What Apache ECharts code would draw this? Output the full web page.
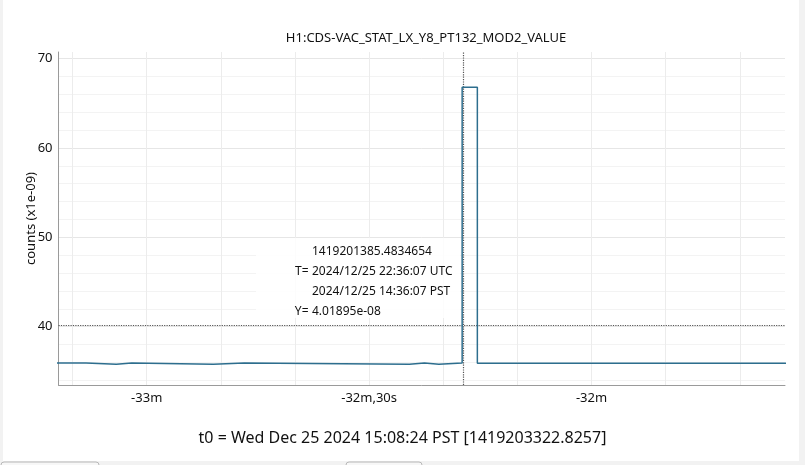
<!DOCTYPE html>
<html>
<head>
<meta charset="utf-8">
<script src="https://cdn.jsdelivr.net/npm/echarts@6/dist/echarts.min.js"></script>
<style>html,body{margin:0;padding:0;background:#fff}#c{width:805px;height:465px}</style>
</head>
<body>
<div id="c"></div>
<script>
// ---- data (seconds relative to t0, value in units of 1e-09) ----
const channelName = 'H1:CDS-VAC_STAT_LX_Y8_PT132_MOD2_VALUE';
const t0Text = 't0 = Wed Dec 25 2024 15:08:24 PST [1419203322.8257]';
const t0Gps = 1419203322.8257;
const stepTimes  = [-1992.5, -1988.18, -1984.10, -1982.02, -1971.02, -1966.84, -1944.57, -1942.54, -1940.59, -1937.45, -1935.40, -1893.0];
const stepValues = [35.94, 35.79, 35.94, 35.79, 35.94, 35.79, 35.94, 35.79, 35.94, 66.80, 35.91, 35.91];
const xTickValues = [-1980, -1950, -1920];
const xTickLabels = ['-33m', '-32m,30s', '-32m'];
const xGridValues = [-1990, -1980, -1970, -1960, -1950, -1940, -1930, -1920, -1910, -1900];
const yTickValues = [40, 50, 60, 70];
const yMinorValues = [34, 36, 38, 42, 44, 46, 48, 52, 54, 56, 58, 62, 64, 66, 68];
const cursorGps = 1419201385.4834654;
const cursorY = 40.1895;
const cursorLines = ['1419201385.4834654', '2024/12/25 22:36:07 UTC', '2024/12/25 14:36:07 PST', '4.01895e-08'];
const cursorKeys = ['', 'T=', '', 'Y='];
const xRange = [-1991.9, -1893.9];
const yRange = [33.48, 70.73];

const FONT = 'Noto Sans';
const chart = echarts.init(document.getElementById('c'), null, {renderer: 'canvas'});
const seriesData = stepTimes.map((t, i) => [t, stepValues[i]]);
const cursorT = cursorGps - t0Gps;

const graphics = [
  {type: 'rect', z: -10, silent: true, shape: {x: 0, y: 0, width: 805, height: 465}, style: {fill: '#f2f2f2'}},
  {type: 'rect', z: -9, silent: true, shape: {x: 3, y: 0, width: 796, height: 461}, style: {fill: '#ffffff'}},
  {type: 'rect', z: -8, silent: true, shape: {x: 1, y: 462, width: 98, height: 14, r: 3}, style: {fill: '#f7f7f7', stroke: '#b8b8b8', lineWidth: 1}},
  {type: 'rect', z: -8, silent: true, shape: {x: 346, y: 462, width: 76, height: 14, r: 3}, style: {fill: '#f7f7f7', stroke: '#b8b8b8', lineWidth: 1}},
  {type: 'rect', z: 50, silent: true, shape: {x: 256, y: 238, width: 204, height: 80}, style: {fill: 'rgba(255,255,255,0.85)'}}
];
cursorLines.forEach((s, i) => {
  graphics.push({type: 'text', z: 60, silent: true, x: 312, y: 252 + i * 20,
    style: {text: s, font: '12px "' + FONT + '"', fill: '#111', verticalAlign: 'middle', textAlign: 'left'}});
  if (cursorKeys[i]) {
    graphics.push({type: 'text', z: 60, silent: true, x: 308.5, y: 252 + i * 20,
      style: {text: cursorKeys[i], font: '12px "' + FONT + '"', fill: '#111', verticalAlign: 'middle', textAlign: 'right'}});
  }
});

const option = {
  animation: false,
  backgroundColor: 'transparent',
  textStyle: {fontFamily: FONT},
  title: [
    {text: channelName, left: 421, top: 27, textAlign: 'center',
     textStyle: {fontSize: 13, fontWeight: 'normal', color: '#111', fontFamily: FONT}},
    {text: t0Text, left: 'center', top: 425,
     textStyle: {fontSize: 16, fontWeight: 'normal', color: '#111', fontFamily: FONT}}
  ],
  grid: {left: 58.5, right: 20, top: 52, bottom: 80, containLabel: false},
  xAxis: {
    type: 'value', min: xRange[0], max: xRange[1],
    axisLine: {show: true, onZero: false, lineStyle: {color: '#9a9a9a', width: 1}},
    axisTick: {show: false, customValues: xGridValues},
    axisLabel: {customValues: xTickValues, margin: 7, fontSize: 13, color: '#111', fontFamily: FONT,
      formatter: v => { const i = xTickValues.indexOf(Math.round(v)); return i >= 0 ? xTickLabels[i] : ''; }},
    splitLine: {show: true, lineStyle: {color: '#ececec', width: 1}}
  },
  yAxis: [
    {
      type: 'value', min: yRange[0], max: yRange[1],
      name: 'counts (x1e-09)', nameLocation: 'middle', nameGap: 21, nameRotate: 90, nameMoveOverlap: false,
      nameTextStyle: {fontSize: 13, color: '#111', fontFamily: FONT},
      axisLine: {show: true, lineStyle: {color: '#9a9a9a', width: 1}},
      axisTick: {show: false, customValues: yTickValues},
      axisLabel: {customValues: yTickValues, margin: 6, fontSize: 13, color: '#111', fontFamily: FONT},
      splitLine: {show: true, lineStyle: {color: '#e6e6e6', width: 1}}
    },
    {
      type: 'value', min: yRange[0], max: yRange[1], position: 'left',
      axisLine: {show: false}, axisLabel: {show: false},
      axisTick: {show: false, customValues: yMinorValues},
      splitLine: {show: true, lineStyle: {color: '#f3f3f3', width: 1}}
    }
  ],
  series: [{
    type: 'line', step: 'end', yAxisIndex: 0, data: seriesData, showSymbol: false, clip: true,
    lineStyle: {color: '#2d6e8e', width: 1.5}, z: 10,
    markLine: {
      silent: true, symbol: 'none', animation: false,
      label: {show: false},
      lineStyle: {type: 'dotted', color: '#555', width: 1.2},
      data: [{xAxis: cursorT}, {yAxis: cursorY}]
    }
  }],
  graphic: graphics
};
chart.setOption(option);
</script>
</body>
</html>
